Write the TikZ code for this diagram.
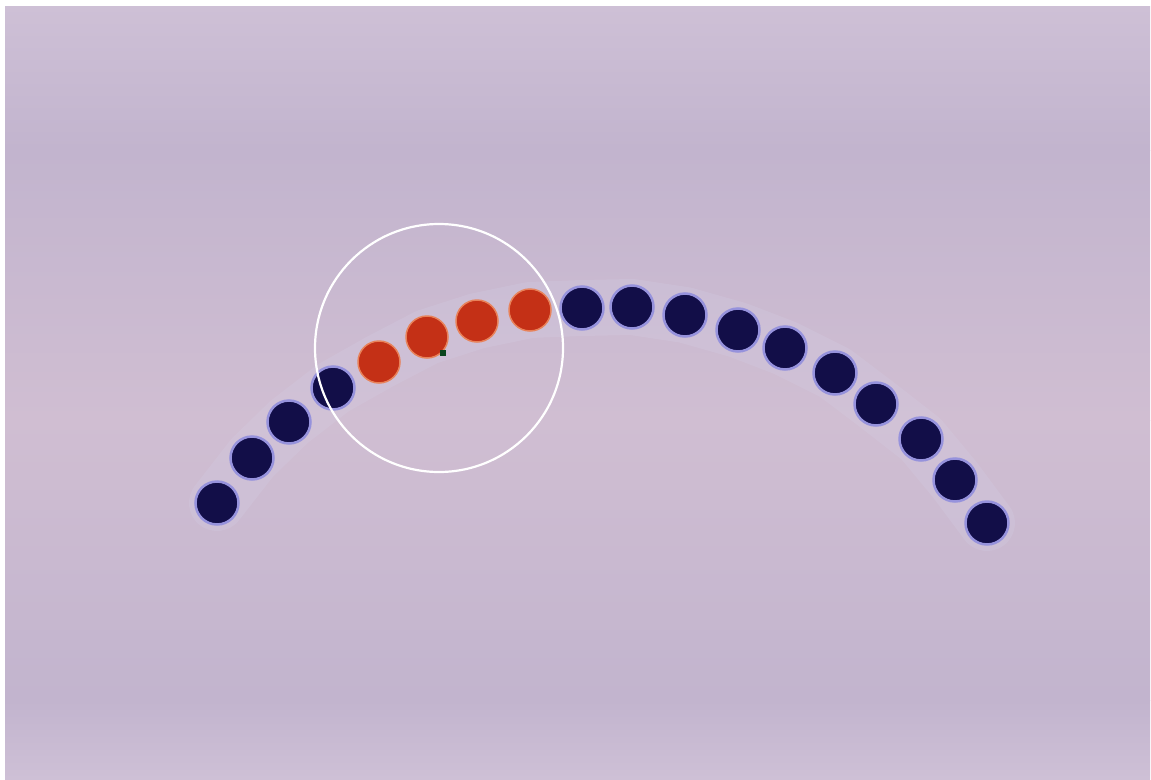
\documentclass[tikz,border=0pt]{standalone}
\begin{document}
\begin{tikzpicture}[x=1pt,y=-1pt,
  navydot/.style={circle,fill=navy,draw=halo,line width=2.5pt,minimum size=43pt,inner sep=0pt},
  reddot/.style={circle,fill=rust,draw=rim,line width=1.5pt,minimum size=42pt,inner sep=0pt},
  ring/.style={circle,draw=white,line width=2.2pt,minimum size=248pt,inner sep=0pt},
  trail/.style={line width=56pt,draw=trailc,opacity=0.22,line cap=round,line join=round}]
\definecolor{navy}{RGB}{18,14,72}
\definecolor{halo}{RGB}{150,146,220}
\definecolor{rust}{RGB}{196,48,22}
\definecolor{rim}{RGB}{232,130,90}
\definecolor{bgA}{RGB}{206,192,214}
\definecolor{bgB}{RGB}{194,180,206}
\definecolor{bgC}{RGB}{208,190,210}
\definecolor{trailc}{RGB}{214,210,232}
\definecolor{leaf}{RGB}{10,70,30}
\useasboundingbox (0,0) rectangle (1151,779);
\fill[white] (0,0) rectangle (1151,779);
\shade[top color=bgA,bottom color=bgB] (5,6) rectangle (1150,150);
\shade[top color=bgB,bottom color=bgC] (5,150) rectangle (1150,420);
\shade[top color=bgC,bottom color=bgB] (5,420) rectangle (1150,700);
\shade[top color=bgB,bottom color=bgA] (5,700) rectangle (1150,779);
% faint trail behind the dots
\draw[trail] (217,503) -- (252,458) -- (289,422) -- (333,388) -- (379,362) -- (427,337) -- (477,321) -- (530,310) -- (582,308) -- (632,307) -- (685,315) -- (738,330) -- (785,348) -- (835,373) -- (876,404) -- (921,439) -- (955,480) -- (987,523);
% dots
\node[navydot] (d1) at (217,503) {};
\node[navydot] (d2) at (252,458) {};
\node[navydot] (d3) at (289,422) {};
\node[navydot] (d4) at (333,388) {};
\node[reddot] (r1) at (379,362) {};
\node[reddot] (r2) at (427,337) {};
\node[reddot] (r3) at (477,321) {};
\node[reddot] (r4) at (530,310) {};
\node[navydot] (d5) at (582,308) {};
\node[navydot] (d6) at (632,307) {};
\node[navydot] (d7) at (685,315) {};
\node[navydot] (d8) at (738,330) {};
\node[navydot] (d9) at (785,348) {};
\node[navydot] (d10) at (835,373) {};
\node[navydot] (d11) at (876,404) {};
\node[navydot] (d12) at (921,439) {};
\node[navydot] (d13) at (955,480) {};
\node[navydot] (d14) at (987,523) {};
\node[fill=leaf,minimum size=6pt,inner sep=0pt] (g) at (443,353) {};
\node[ring] (c) at (439,348) {};
\end{tikzpicture}
\end{document}
